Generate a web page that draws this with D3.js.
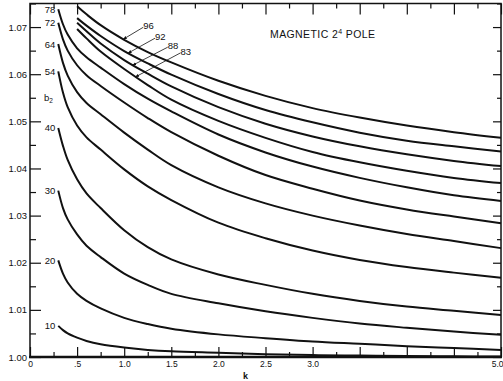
<!DOCTYPE html>
<html>
<head>
<meta charset="utf-8">
<script src="https://cdn.jsdelivr.net/npm/d3@7"></script>
<style>
  body { margin: 0; background: #fff; }
  text { font-family: "Liberation Sans", Arial, sans-serif; fill: #111; }
</style>
</head>
<body>
<div id="chart"></div>
<script>
// b2 against k, one curve per labelled parameter value
const kGrid = [0.3, 0.35, 0.4, 0.5, 0.6, 0.75, 1.0, 1.25, 1.5, 2.0, 2.5, 3.0, 3.5, 4.0, 4.5, 5.0];

const curveNames = ["10", "20", "30", "40", "54", "64", "72", "78", "83", "88", "92", "96"];

const b10 = [1.0066, 1.0057, 1.0050, 1.0041, 1.0034, 1.0027, 1.0020, 1.0015, 1.0012, 1.0009, 1.0006, 1.0004, 1.0003, 1.0002, 1.00015, 1.0001];
const b20 = [1.0205, 1.0177, 1.0158, 1.0134, 1.0119, 1.0103, 1.0083, 1.0070, 1.0060, 1.0048, 1.0040, 1.0033, 1.0028, 1.0023, 1.0019, 1.0015];
const b30 = [1.0353, 1.0316, 1.0292, 1.0260, 1.0236, 1.0212, 1.0177, 1.0153, 1.0134, 1.0114, 1.0097, 1.0083, 1.0071, 1.0062, 1.0054, 1.0047];
const b40 = [1.0486, 1.0448, 1.0418, 1.0377, 1.0347, 1.0316, 1.0269, 1.0233, 1.0207, 1.0175, 1.0153, 1.0134, 1.0119, 1.0107, 1.0098, 1.0089];
const b54 = [1.0606, 1.0561, 1.0530, 1.0491, 1.0466, 1.0440, 1.0398, 1.0362, 1.0333, 1.0285, 1.0252, 1.0226, 1.0206, 1.0191, 1.0179, 1.0168];
const b64 = [1.0664, 1.0624, 1.0597, 1.0562, 1.0539, 1.0515, 1.0476, 1.0440, 1.0407, 1.0360, 1.0326, 1.0300, 1.0279, 1.0261, 1.0246, 1.0231];
const b72 = [1.0709, 1.0674, 1.0650, 1.0619, 1.0598, 1.0575, 1.0540, 1.0507, 1.0477, 1.0427, 1.0386, 1.0357, 1.0332, 1.0313, 1.0298, 1.0284];
const b78 = [1.0738, 1.0706, 1.0684, 1.0655, 1.0636, 1.0614, 1.0579, 1.0548, 1.0521, 1.0472, 1.0434, 1.0404, 1.0380, 1.0360, 1.0343, 1.0331];
const b83 = [null, null, null, 1.0696, 1.0676, 1.0648, 1.0611, 1.0577, 1.0546, 1.0501, 1.0465, 1.0435, 1.0413, 1.0395, 1.0380, 1.0369];
const b88 = [null, null, null, 1.0709, 1.0691, 1.0665, 1.0630, 1.0601, 1.0574, 1.0530, 1.0495, 1.0468, 1.0447, 1.0430, 1.0416, 1.0405];
const b92 = [null, null, null, 1.0719, 1.0703, 1.0681, 1.0649, 1.0623, 1.0599, 1.0558, 1.0524, 1.0498, 1.0476, 1.0459, 1.0447, 1.0436];
const b96 = [null, null, null, 1.0744, 1.0727, 1.0704, 1.0673, 1.0647, 1.0625, 1.0586, 1.0554, 1.0528, 1.0508, 1.0491, 1.0477, 1.0465];

const curveValues = [b10, b20, b30, b40, b54, b64, b72, b78, b83, b88, b92, b96];

// the four top curves are named with a leader line, pointing at this k
const leaderNames = ["96", "92", "88", "83"];
const leaderK = [0.99, 1.04, 1.09, 1.12];

const xTickValues = [0, 0.5, 1, 1.5, 2, 2.5, 3, 5];
const xTickLabels = ["0", ".5", "1.0", "1.5", "2.0", "2.5", "3.0", "5.0"];
const yTickValues = [1.00, 1.01, 1.02, 1.03, 1.04, 1.05, 1.06, 1.07];
const yTickLabels = ["1.00", "1.01", "1.02", "1.03", "1.04", "1.05", "1.06", "1.07"];

// Setup
const width = 503;
const height = 381;
const plotLeft = 30, plotRight = 501, plotTop = 3.5, plotBottom = 357;

const svg = d3.select("#chart")
  .append("svg")
  .attr("width", width)
  .attr("height", height);

const x = d3.scaleLinear().domain([0, 5]).range([plotLeft, plotRight]);
const y = d3.scaleLinear().domain([1.0, 1.075]).range([plotBottom, plotTop]);

const series = curveNames.map((name, i) => ({
  name: name,
  values: kGrid.map((k, j) => ({ k: k, b: curveValues[i][j] })).filter(d => d.b != null)
}));

// Ticks: long ones every 0.5 / 0.01, short ones between
const xMajor = d3.range(0, 5.001, 0.5);
const xMinor = d3.range(0.25, 5, 0.5);
const yMajor = d3.range(1.0, 1.0751, 0.01);
const yMinor = d3.range(1.005, 1.0751, 0.01);

function tickGroup(axis, transform) {
  svg.append("g")
    .attr("transform", transform)
    .call(axis.tickFormat(""))
    .call(g => g.select(".domain").remove())
    .call(g => g.selectAll("line").attr("stroke", "#111").attr("stroke-width", 1.2));
}

tickGroup(d3.axisBottom(x).tickValues(xMajor).tickSize(-10), `translate(0,${plotBottom})`);
tickGroup(d3.axisBottom(x).tickValues(xMinor).tickSize(-5), `translate(0,${plotBottom})`);
tickGroup(d3.axisTop(x).tickValues(xMajor).tickSize(-11), `translate(0,${plotTop})`);
tickGroup(d3.axisTop(x).tickValues(xMinor).tickSize(-5), `translate(0,${plotTop})`);
tickGroup(d3.axisLeft(y).tickValues(yMajor).tickSize(-11), `translate(${plotLeft},0)`);
tickGroup(d3.axisLeft(y).tickValues(yMinor).tickSize(-6), `translate(${plotLeft},0)`);
tickGroup(d3.axisRight(y).tickValues(yMajor).tickSize(-8), `translate(${plotRight},0)`);
tickGroup(d3.axisRight(y).tickValues(yMinor).tickSize(-4), `translate(${plotRight},0)`);

// Tick labels
svg.append("g")
  .attr("transform", `translate(0,${plotBottom})`)
  .call(d3.axisBottom(x).tickValues(xTickValues).tickSize(0).tickPadding(4)
    .tickFormat((d, i) => xTickLabels[i]))
  .call(g => g.select(".domain").remove())
  .call(g => g.selectAll("text").attr("font-size", 8.5).attr("font-family", "Liberation Sans").attr("fill", "#111"))
  .call(g => g.selectAll("text").filter(d => d === 5).attr("text-anchor", "end").attr("dx", 2));

svg.append("g")
  .attr("transform", `translate(${plotLeft},0)`)
  .call(d3.axisLeft(y).tickValues(yTickValues).tickSize(0).tickPadding(3)
    .tickFormat((d, i) => yTickLabels[i]))
  .call(g => g.select(".domain").remove())
  .call(g => g.selectAll("text").attr("font-size", 9.5).attr("font-family", "Liberation Sans").attr("fill", "#111"));

// Frame
svg.append("rect")
  .attr("x", plotLeft).attr("y", plotTop)
  .attr("width", plotRight - plotLeft).attr("height", plotBottom - plotTop)
  .attr("fill", "none").attr("stroke", "#111").attr("stroke-width", 1.5);
svg.append("line")
  .attr("x1", plotLeft - 1).attr("x2", plotRight + 1).attr("y1", plotBottom).attr("y2", plotBottom)
  .attr("stroke", "#111").attr("stroke-width", 2.4);

// Curves
const line = d3.line()
  .x(d => x(d.k))
  .y(d => y(d.b))
  .curve(d3.curveCatmullRom.alpha(0.5));

const paths = svg.append("g")
  .selectAll("path")
  .data(series)
  .join("path")
  .attr("d", d => line(d.values))
  .attr("fill", "none")
  .attr("stroke", "#111")
  .attr("stroke-width", 2);

// Labels at the start of the lower curves
svg.append("g")
  .selectAll("text")
  .data(series.filter(d => !leaderNames.includes(d.name)))
  .join("text")
  .attr("x", d => x(d.values[0].k) - 3)
  .attr("y", d => y(d.values[0].b) + 3.5)
  .attr("text-anchor", "end")
  .attr("font-size", 9.5)
  .text(d => d.name);

// Leader lines for the upper curves
function pointAtK(pathNode, k) {
  const target = x(k);
  let lo = 0, hi = pathNode.getTotalLength();
  for (let i = 0; i < 40; i++) {
    const mid = (lo + hi) / 2;
    if (pathNode.getPointAtLength(mid).x < target) lo = mid; else hi = mid;
  }
  return pathNode.getPointAtLength(lo);
}

const leaderOffsets = [[20, -12], [27, -15], [35, -18], [45, -24]];

svg.append("defs").append("marker")
  .attr("id", "tip")
  .attr("viewBox", "0 0 10 10")
  .attr("refX", 9).attr("refY", 5)
  .attr("markerWidth", 5).attr("markerHeight", 5)
  .attr("orient", "auto-start-reverse")
  .append("path")
  .attr("d", "M0,1 L10,5 L0,9 z")
  .attr("fill", "#111");

leaderNames.forEach((name, i) => {
  const idx = curveNames.indexOf(name);
  const p = pointAtK(paths.nodes()[idx], leaderK[i]);
  const [dx, dy] = leaderOffsets[i];
  svg.append("line")
    .attr("x1", p.x + dx).attr("y1", p.y + dy)
    .attr("x2", p.x).attr("y2", p.y)
    .attr("stroke", "#111").attr("stroke-width", 0.8)
    .attr("marker-end", "url(#tip)");
  svg.append("text")
    .attr("x", p.x + dx)
    .attr("y", p.y + dy + 2)
    .attr("font-size", 9.5)
    .text(name);
});

// Axis names and title
svg.append("text")
  .attr("x", 44).attr("y", 101)
  .attr("font-size", 9.5)
  .text("b")
  .append("tspan")
  .attr("font-size", 6.5)
  .attr("dy", 2)
  .text("2");

svg.append("text")
  .attr("x", 243).attr("y", 379)
  .attr("font-size", 9)
  .attr("font-weight", "bold")
  .text("k");

const title = svg.append("text")
  .attr("x", 270).attr("y", 38)
  .attr("font-size", 10.5)
  .attr("letter-spacing", 0.4);
title.append("tspan").text("MAGNETIC 2");
title.append("tspan").attr("font-size", 7).attr("dy", -4.5).text("4");
title.append("tspan").attr("dy", 4.5).text(" POLE");
</script>
</body>
</html>
